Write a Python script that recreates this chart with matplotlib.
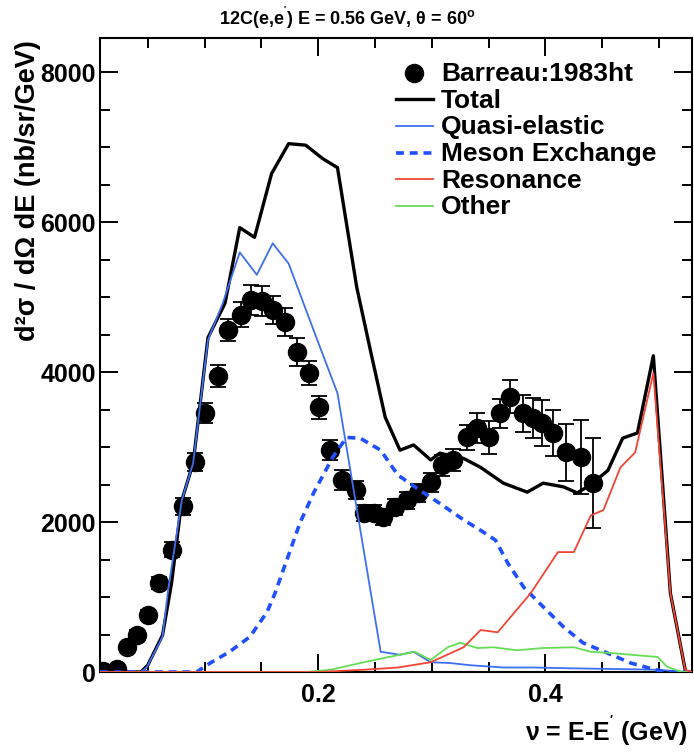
import numpy as np
import matplotlib
matplotlib.use("Agg")
import matplotlib.pyplot as plt
from matplotlib.ticker import MultipleLocator, FixedLocator

plt.rcParams['font.family'] = ['Liberation Sans', 'DejaVu Sans']
plt.rcParams['font.weight'] = 'bold'
plt.rcParams['mathtext.fontset'] = 'custom'
plt.rcParams['mathtext.rm'] = 'Liberation Sans:bold'
plt.rcParams['mathtext.it'] = 'Liberation Sans:bold'
plt.rcParams['mathtext.bf'] = 'Liberation Sans:bold'

# data: Barreau:1983ht
x_data = [0.011, 0.023, 0.032, 0.041, 0.050, 0.060, 0.071, 0.081, 0.092, 0.100,
          0.112, 0.121, 0.132, 0.141, 0.151, 0.160, 0.171, 0.181, 0.192, 0.201,
          0.210, 0.221, 0.233, 0.240, 0.249, 0.257, 0.268, 0.278, 0.288, 0.299,
          0.309, 0.319, 0.331, 0.340, 0.350, 0.360, 0.369, 0.380, 0.389, 0.397,
          0.407, 0.418, 0.431, 0.442]
y_data = [20, 40, 330, 500, 760, 1190, 1630, 2210, 2800, 3450,
          3950, 4560, 4770, 4960, 4950, 4830, 4670, 4270, 3990, 3530,
          2960, 2560, 2430, 2120, 2120, 2070, 2200, 2290, 2390, 2530,
          2760, 2830, 3130, 3250, 3130, 3450, 3670, 3450, 3390, 3320,
          3190, 2930, 2870, 2520]
e_data = [40, 40, 50, 60, 70, 80, 100, 110, 120, 133,
          145, 145, 170, 200, 200, 190, 190, 190, 165, 155,
          133, 130, 120, 110, 110, 110, 110, 115, 120, 125,
          140, 150, 170, 200, 220, 190, 220, 245, 270, 310,
          310, 380, 490, 600]

# model curves
x_tot = [0.008, 0.044, 0.050, 0.063, 0.071, 0.080, 0.090, 0.103, 0.118, 0.131,
         0.144, 0.159, 0.174, 0.189, 0.204, 0.217, 0.234, 0.246, 0.259, 0.272,
         0.284, 0.299, 0.307, 0.328, 0.343, 0.363, 0.384, 0.398, 0.416, 0.428,
         0.440, 0.455, 0.468, 0.481, 0.495, 0.510, 0.523]
y_tot = [0, 0, 90, 490, 1190, 2290, 2790, 4460, 4920, 5930,
         5800, 6650, 7050, 7030, 6850, 6730, 5130, 4290, 3400, 2960,
         3030, 2830, 2920, 2850, 2730, 2520, 2400, 2520, 2470, 2390,
         2500, 2690, 3120, 3190, 4220, 1050, 30]

x_qe = [0.008, 0.044, 0.049, 0.063, 0.068, 0.080, 0.090, 0.103, 0.116, 0.131,
        0.146, 0.160, 0.174, 0.196, 0.217, 0.255, 0.272, 0.284, 0.299, 0.316,
        0.334, 0.363, 0.390, 0.420, 0.460, 0.500, 0.523]
y_qe = [0, 0, 60, 470, 1100, 2290, 2790, 4430, 4920, 5600,
        5300, 5720, 5450, 4560, 3720, 270, 230, 270, 130, 120,
        90, 60, 60, 50, 40, 30, 0]

x_me = [0.008, 0.093, 0.105, 0.122, 0.140, 0.155, 0.162, 0.184, 0.196, 0.213,
        0.225, 0.237, 0.255, 0.270, 0.287, 0.307, 0.328, 0.343, 0.356, 0.367,
        0.381, 0.398, 0.416, 0.433, 0.455, 0.475, 0.492, 0.505, 0.529]
y_me = [0, 0, 120, 270, 470, 800, 1050, 1990, 2390, 2870,
        3130, 3120, 2960, 2630, 2450, 2250, 2030, 1890, 1760, 1450,
        1130, 870, 600, 390, 250, 120, 50, 0, 0]

x_res = [0.008, 0.200, 0.240, 0.270, 0.299, 0.328, 0.343, 0.358, 0.387, 0.411,
         0.425, 0.440, 0.451, 0.466, 0.479, 0.495, 0.510, 0.523, 0.529]
y_res = [0, 0, 30, 60, 130, 330, 560, 530, 1050, 1600,
         1600, 2090, 2160, 2730, 2930, 3990, 1050, 30, 0]

x_oth = [0.008, 0.190, 0.211, 0.240, 0.262, 0.285, 0.299, 0.314, 0.325, 0.340,
         0.354, 0.375, 0.398, 0.425, 0.440, 0.460, 0.499, 0.507, 0.520, 0.529]
y_oth = [0, 0, 30, 130, 200, 270, 160, 330, 390, 320,
         330, 290, 320, 330, 270, 250, 200, 70, 0, 0]

fig = plt.figure(figsize=(6.94, 7.52), dpi=100)
ax = fig.add_axes([100/694, 1-672/752, 592/694, 634/752])

eb = ax.errorbar(x_data, y_data, yerr=e_data, fmt='o', color='black', ms=13,
                 elinewidth=1.3, capsize=6, capthick=1.3, zorder=2)
l_tot, = ax.plot(x_tot, y_tot, color='black', lw=2.4, zorder=3)
l_qe, = ax.plot(x_qe, y_qe, color='#3f6ff0', lw=1.3, zorder=4)
l_me, = ax.plot(x_me, y_me, color='#1f4fff', lw=2.6, ls=(0, (2.2, 1.6)), zorder=4)
l_res, = ax.plot(x_res, y_res, color='#f04535', lw=1.3, zorder=5)
l_oth, = ax.plot(x_oth, y_oth, color='#66dd55', lw=1.3, zorder=4)

ax.set_xlim(0.008, 0.529)
ax.set_ylim(0, 8460)
ax.xaxis.set_major_locator(FixedLocator([0.2, 0.4]))
ax.xaxis.set_minor_locator(MultipleLocator(0.05))
ax.yaxis.set_major_locator(MultipleLocator(2000))
ax.yaxis.set_minor_locator(MultipleLocator(500))
ax.set_xticklabels(["0.2", "0.4"])
ax.tick_params(which='both', direction='in', top=True, right=True, width=1.4)
ax.tick_params(which='major', length=13)
ax.tick_params(which='minor', length=7)
ax.tick_params(axis='x', pad=8, labelsize=18)
ax.tick_params(axis='y', pad=3, labelsize=18)
for lab in ax.get_xticklabels() + ax.get_yticklabels():
    lab.set_fontweight('bold')
for sp in ax.spines.values():
    sp.set_linewidth(1.5)

leg = ax.legend([eb[0], l_tot, l_qe, l_me, l_res, l_oth],
                ["Barreau:1983ht", "Total", "Quasi-elastic", "Meson Exchange",
                 "Resonance", "Other"],
                loc='upper left', bbox_to_anchor=(0.50, 0.962), frameon=False,
                borderpad=0, borderaxespad=0, handlelength=1.4, handletextpad=0.3,
                labelspacing=0.1, handleheight=0.5,
                prop={'family': 'Liberation Sans', 'weight': 'bold', 'size': 19})

fig.text(347/694, 1-18/752, "12C(e,e$^{'}$) E = 0.56 GeV, θ = 60$^{o}$",
         ha='center', va='center', fontsize=13, fontweight='bold')
fig.text(28/694, 1-40/752, "d²σ / dΩ dE (nb/sr/GeV)", rotation=90,
         ha='center', va='top', fontsize=19.5, fontweight='bold')
fig.text(688/694, 4/752, "ν = E-E$^{'}$ (GeV)", ha='right', va='bottom',
         fontsize=18, fontweight='bold')

fig.savefig("out.png", dpi=100)
